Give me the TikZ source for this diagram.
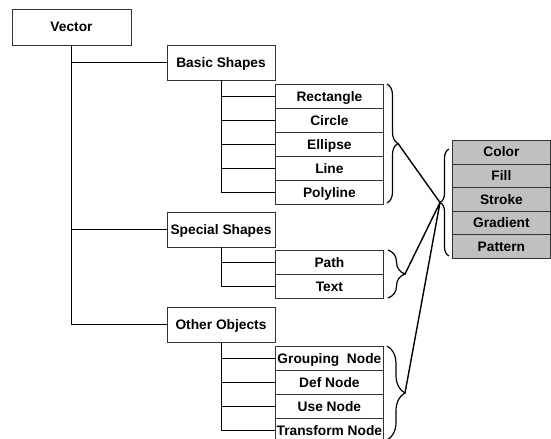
\documentclass[tikz,border=0pt]{standalone}
\usepackage{fontspec}
\setmainfont{Liberation Sans}
\usetikzlibrary{matrix,positioning,decorations.pathreplacing}
\definecolor{attrgray}{RGB}{192,192,192}

\tikzset{
	box/.style={draw=black!80, line width=0.8bp, font=\fontsize{13.8}{15}\selectfont\bfseries, text height=9.9bp, text depth=0.5bp, inner xsep=0.5bp, inner ysep=2bp},
	stack/.style={matrix of nodes, inner sep=0pt, outer sep=0pt, row sep=-0.8bp, nodes={box, minimum width=108bp, minimum height=24bp, anchor=center}},
	tree/.style={line width=0.8bp, to path={|- (\tikztotarget)}},
	brc/.style={draw, line width=1.2bp, decorate, decoration={brace, amplitude=#1}},
	link/.style={line width=1.4bp},
}

\begin{document}
\begin{tikzpicture}[x=1bp, y=-1bp]
			\useasboundingbox (0,0) rectangle (551,439);
			\node[box, minimum width=119bp, minimum height=36bp] (vector) at (71.5,27) {Vector};
			\node[box, minimum width=108bp, minimum height=35bp] (basic) at (221,62.5) {Basic Shapes};
			\node[box, minimum width=108bp, minimum height=35bp] (special) at (221,229.5) {Special Shapes};
			\node[box, minimum width=108bp, minimum height=35bp] (other) at (221,324.5) {Other Objects};
			\matrix (basicmat) [stack, anchor=north west] at (275,84)
			{
				Rectangle \\ Circle \\ Ellipse \\ Line \\ Polyline \\
			};
			\matrix (specialmat) [stack, anchor=north west] at (275,250)
			{
				Path \\ Text \\
			};
			\matrix (othermat) [stack, anchor=north west] at (275,346)
			{
				Grouping\ \ Node \\ Def Node \\ Use Node \\ Transform Node \\
			};
			\matrix (attrmat) [stack, anchor=north west, nodes={minimum width=98bp, minimum height=23.6bp, fill=attrgray}] at (452,140)
			{
				Color \\ Fill \\ Stroke \\ Gradient \\ Pattern \\
			};
			\path[tree]
			(vector.south) edge (basic.west) edge (special.west) edge (other.west)
			(basic.south) edge (basicmat-1-1.west) edge (basicmat-2-1.west) edge (basicmat-3-1.west) edge (basicmat-4-1.west) edge (basicmat-5-1.west)
			(special.south) edge (specialmat-1-1.west) edge (specialmat-2-1.west)
			(other.south) edge (othermat-1-1.west) edge (othermat-2-1.west) edge (othermat-3-1.west) edge (othermat-4-1.west);
			% braces
			\draw[brc=11bp] (387,84) -- (387,203);
			\draw[brc=17bp] (388,250) -- (388,298);
			\draw[brc=18bp] (387,346) -- (387,440);
			\draw[brc=9bp] (449,256) -- (449,149);
			\coordinate (basictip) at (398,143.5);
			\coordinate (specialtip) at (405,274);
			\coordinate (othertip) at (405,393);
			\coordinate (attrtip) at (440,202.5);
			\draw[link] (basictip) -- (attrtip) (specialtip) -- (attrtip) (othertip) -- (attrtip);
		\end{tikzpicture}
\end{document}
